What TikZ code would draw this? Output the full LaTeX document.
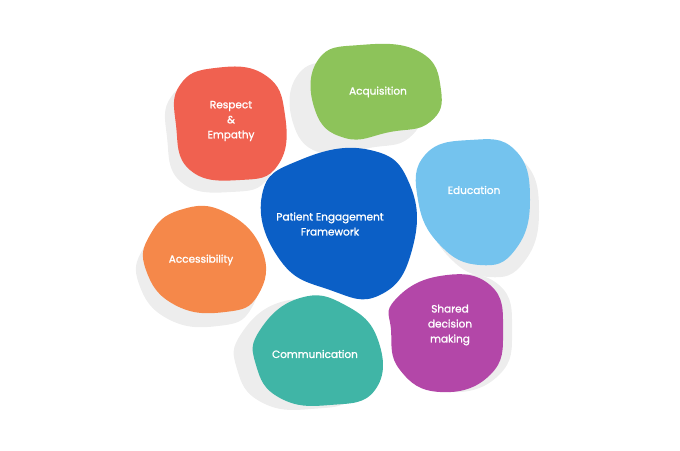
\documentclass[tikz,border=0pt]{standalone}
\usepackage{fontspec}
\setmainfont{Poppins}
\newfontfamily\blobfont[FakeBold=1.3]{Poppins}
\definecolor{cBlue}{HTML}{0B5FC6}
\definecolor{cRed}{HTML}{F06150}
\definecolor{cGreen}{HTML}{8DC35A}
\definecolor{cSky}{HTML}{74C3EE}
\definecolor{cPurple}{HTML}{B347A8}
\definecolor{cTeal}{HTML}{40B5A6}
\definecolor{cOrange}{HTML}{F5884A}
\tikzset{every picture/.style={line width=0.75pt}}
\tikzset{
  blobshade/.style={fill=black!7, draw=none, shift={(-9,12)}},
  blobtext/.style={text=white, font=\blobfont\fontsize{10.5}{15}\selectfont, align=center, inner sep=0.75pt}
}
\newcommand{\blobpts}[1]{plot[smooth cycle, tension=0.8] coordinates {#1}}

\begin{document}
\begin{tikzpicture}[x=1pt,y=1pt,yscale=-1]
\useasboundingbox (0,0) rectangle (680,450);

%Shadows
\path[blobshade] \blobpts{(180,85) (215,68) (265,75) (285,115) (278,165) (240,180) (190,170) (176,125)};
\path[blobshade,shift={(-12,4)}] \blobpts{(318,60) (360,45) (420,52) (441,90) (430,122) (390,132) (345,138) (315,110)};
\path[blobshade,shift={(18,0)}] \blobpts{(425,155) (470,140) (515,150) (530,200) (515,250) (480,265) (440,245) (418,200)};
\path[blobshade,shift={(18,-12)}] \blobpts{(395,300) (440,276) (490,285) (503,330) (490,375) (440,392) (400,370) (391,330)};
\path[blobshade,shift={(-10,-8)}] \blobpts{(260,330) (300,298) (345,305) (378,340) (375,390) (330,405) (280,398) (256,365)};
\path[blobshade,shift={(2,2)}] \blobpts{(150,235) (180,210) (225,212) (262,250) (258,295) (225,312) (175,305) (146,270)};

%Blobs
\fill[cBlue] \blobpts{(262,195) (300,160) (370,150) (410,185) (412,250) (380,295) (330,290) (280,260)};
\fill[cRed] \blobpts{(180,85) (215,68) (265,75) (285,115) (278,165) (240,180) (190,170) (176,125)};
\fill[cGreen] \blobpts{(318,60) (360,45) (420,52) (441,90) (430,122) (390,132) (345,138) (315,110)};
\fill[cSky] \blobpts{(425,155) (470,140) (515,150) (530,200) (515,250) (480,265) (440,245) (418,200)};
\fill[cPurple] \blobpts{(395,300) (440,276) (490,285) (503,330) (490,375) (440,392) (400,370) (391,330)};
\fill[cTeal] \blobpts{(260,330) (300,298) (345,305) (378,340) (375,390) (330,405) (280,398) (256,365)};
\fill[cOrange] \blobpts{(150,235) (180,210) (225,212) (262,250) (258,295) (225,312) (175,305) (146,270)};

% Text Nodes
\node[blobtext] (core) at (330,224) {Patient Engagement\\Framework};
\node[blobtext] (respect) at (231,121) {Respect\\\&\\Empathy};
\node[blobtext] (acq) at (378,92) {Acquisition};
\node[blobtext] (edu) at (474,190) {Education};
\node[blobtext] (shared) at (450,325) {Shared\\decision\\making};
\node[blobtext] (comm) at (315,354) {Communication};
\node[blobtext] (access) at (201,260) {Accessibility};
\end{tikzpicture}
\end{document}
